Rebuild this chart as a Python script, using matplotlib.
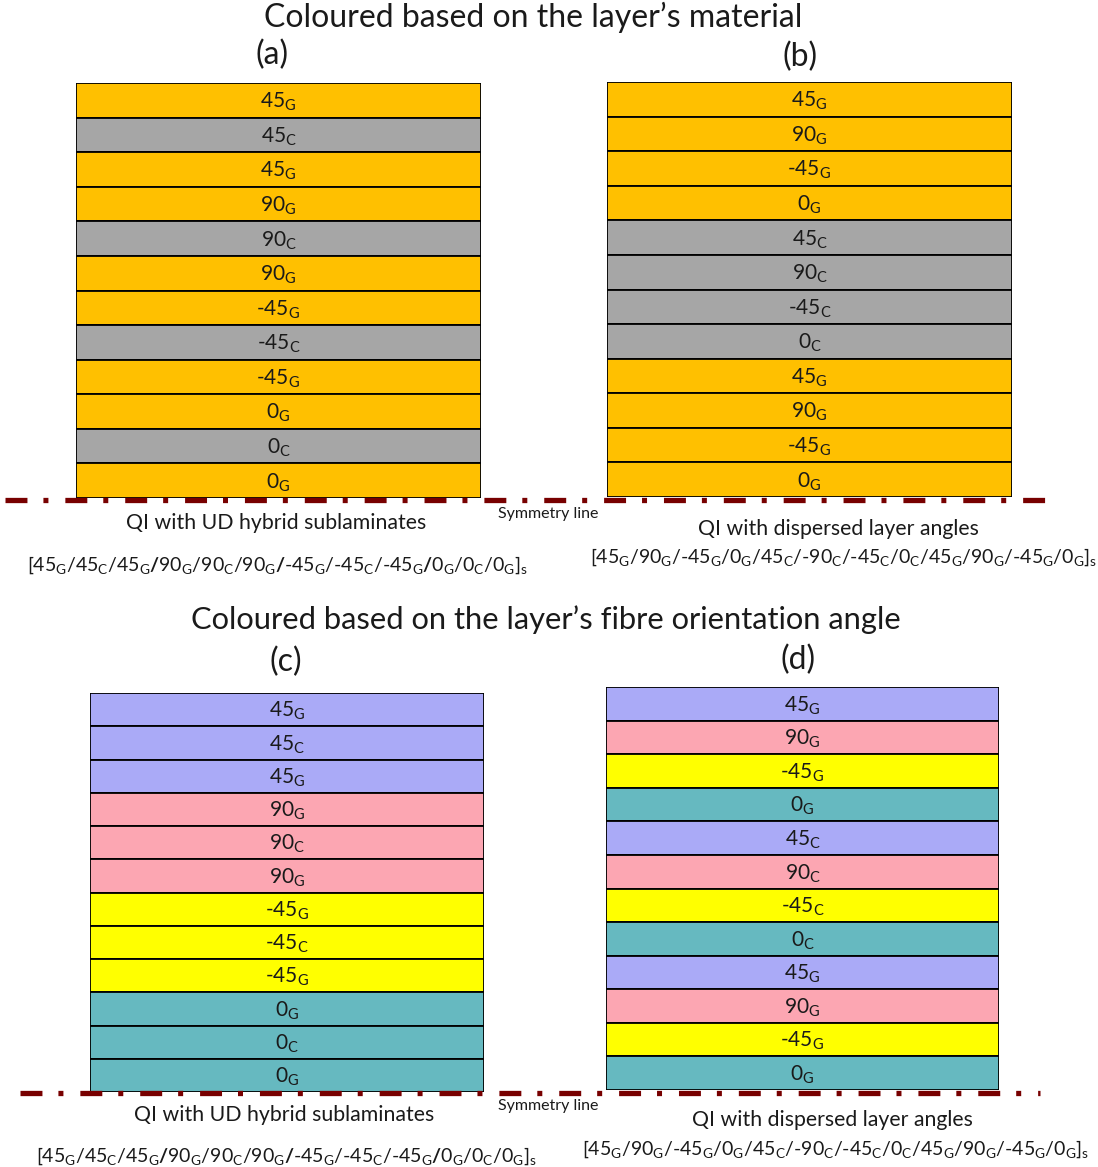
"""
Hybrid QI laminate stacking sequences, coloured by material and by angle.
"""

import matplotlib
matplotlib.use("Agg")
import matplotlib.pyplot as plt
from matplotlib.lines import Line2D

plt.rcParams["font.family"] = ["Lato", "DejaVu Sans"]
plt.rcParams["mathtext.fontset"] = "custom"
plt.rcParams["mathtext.rm"] = "Lato"
plt.rcParams["mathtext.it"] = "Lato"
plt.rcParams["mathtext.bf"] = "Lato:bold"
plt.rcParams["lines.scale_dashes"] = False

# ── Data ──────────────────────────────────────────────────────────────────────

ud_angles = [45, 45, 45, 90, 90, 90, -45, -45, -45, 0, 0, 0]
ud_materials = ["G", "C", "G", "G", "C", "G", "G", "C", "G", "G", "C", "G"]

disp_angles = [45, 90, -45, 0, 45, 90, -45, 0, 45, 90, -45, 0]
disp_materials = ["G", "G", "G", "G", "C", "C", "C", "C", "G", "G", "G", "G"]

material_colors = {"G": "#FFC000", "C": "#A6A6A6"}
angle_colors = {45: "#AAAAF7", 90: "#FCA6B2", -45: "#FFFF00", 0: "#66B9C0"}

ud_caption = "QI with UD hybrid sublaminates"
disp_caption = "QI with dispersed layer angles"

ud_formula = (r"$[45_\mathrm{G}/45_\mathrm{C}/45_\mathrm{G}\mathbf{/}90_\mathrm{G}/90_\mathrm{C}"
              r"/90_\mathrm{G}\mathbf{/}‐45_\mathrm{G}/‐45_\mathrm{C}/‐45_\mathrm{G}"
              r"\mathbf{/}0_\mathrm{G}/0_\mathrm{C}/0_\mathrm{G}]_\mathrm{s}$")
disp_formula = (r"$[45_\mathrm{G}/90_\mathrm{G}/‐45_\mathrm{G}/0_\mathrm{G}/45_\mathrm{C}"
                r"/‐90_\mathrm{C}/‐45_\mathrm{C}/0_\mathrm{C}/45_\mathrm{G}/90_\mathrm{G}"
                r"/‐45_\mathrm{G}/0_\mathrm{G}]_\mathrm{s}$")

W, H = 1098, 1167
TXT = "#1a1a1a"


def fx(px):
    return px / W


def fy(py):
    return 1 - py / H


def layer_label(angle, mat):
    a = str(angle).replace("-", "‐")
    return rf"${a}_\mathrm{{{mat}}}$"


def draw_stack(fig, box, angles, materials, by_angle):
    x0, y0, x1, y1 = box
    ax = fig.add_axes([fx(x0), fy(y1), fx(x1 - x0), (y1 - y0) / H])
    n = len(angles)
    if by_angle:
        colors = [angle_colors[a] for a in angles]
    else:
        colors = [material_colors[m] for m in materials]
    # top layer first -> highest y
    ys = list(range(n - 1, -1, -1))
    ax.barh(ys, [1] * n, height=1, left=0, align="edge",
            color=colors, edgecolor="black", linewidth=1.3)
    for y, a, m in zip(ys, angles, materials):
        ax.text(0.5, y + 0.45, layer_label(a, m), ha="center", va="center",
                fontsize=15, color=TXT)
    ax.set_xlim(0, 1)
    ax.set_ylim(0, n)
    ax.axis("off")
    return ax


def symmetry_line(fig, y, xa, xb):
    fig.add_artist(Line2D([fx(xa), fx(xb)], [fy(y), fy(y)], color="#780000",
                          lw=3.8, linestyle=(0, (15.8, 11.5, 3.6, 12.2)),
                          dash_capstyle="butt", zorder=10))


# ── Figure ────────────────────────────────────────────────────────────────────

fig = plt.figure(figsize=(W / 100, H / 100), dpi=100, facecolor="white")

fig.text(fx(533), fy(17), "Coloured based on the layer’s material",
         ha="center", va="center", fontsize=23, color=TXT)
fig.text(fx(546), fy(620), "Coloured based on the layer’s fibre orientation angle",
         ha="center", va="center", fontsize=22.2, color=TXT)

for lab, x, y in [("(a)", 272, 55), ("(b)", 800, 57), ("(c)", 286, 662), ("(d)", 798, 660)]:
    fig.text(fx(x), fy(y), lab, ha="center", va="center", fontsize=23, color=TXT)

draw_stack(fig, (76, 83, 481, 498), ud_angles, ud_materials, by_angle=False)
draw_stack(fig, (607, 82, 1012, 497), disp_angles, disp_materials, by_angle=False)
draw_stack(fig, (90, 693, 484, 1092), ud_angles, ud_materials, by_angle=True)
draw_stack(fig, (606, 687, 999, 1090), disp_angles, disp_materials, by_angle=True)

symmetry_line(fig, 500, 5, 1052)
symmetry_line(fig, 1093, 20, 1040)

fig.text(fx(548), fy(514), "Symmetry line", ha="center", va="center", fontsize=11.5, color=TXT)
fig.text(fx(548), fy(1106), "Symmetry line", ha="center", va="center", fontsize=11.5, color=TXT)

# captions + stacking sequence formulas
for cap, form, cx, cy, fxp, fyp in [
    (ud_caption, ud_formula, 276, 523, 277, 565),
    (disp_caption, disp_formula, 838, 529, 844, 557),
    (ud_caption, ud_formula, 284, 1115, 286, 1156),
    (disp_caption, disp_formula, 832, 1120, 836, 1149),
]:
    fig.text(fx(cx), fy(cy), cap, ha="center", va="center", fontsize=15.3, color=TXT)
    fig.text(fx(fxp), fy(fyp), form, ha="center", va="center", fontsize=14, color=TXT)

fig.savefig("out.png", dpi=100, facecolor="white")
